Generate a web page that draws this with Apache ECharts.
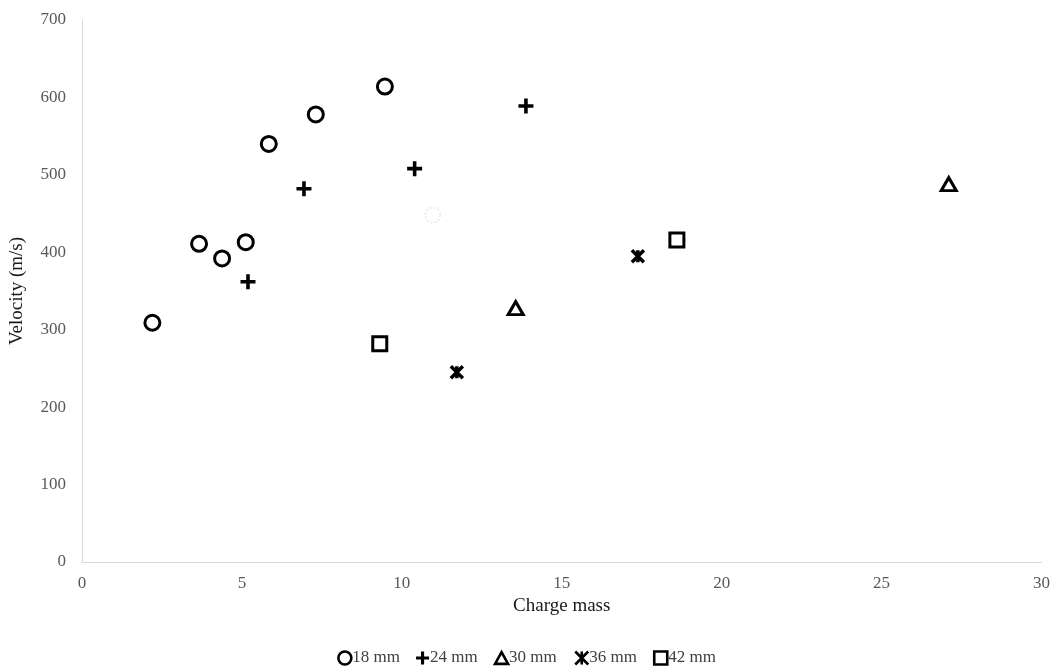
<!DOCTYPE html>
<html>
<head>
<meta charset="utf-8">
<script src="https://cdn.jsdelivr.net/npm/echarts@6/dist/echarts.min.js"></script>
<style>html,body{margin:0;padding:0;background:#fff}#chart{width:1053px;height:666px}</style>
</head>
<body>
<div id="chart"></div>
<script>
var seriesNames = ['18 mm', '24 mm', '30 mm', '36 mm', '42 mm'];
var data18 = [[2.2, 309], [3.66, 411], [4.38, 392], [5.12, 413], [5.84, 540], [7.31, 578], [9.47, 614]];
var data18faint = [[10.97, 448]];
var data24 = [[5.19, 362], [6.94, 482], [10.4, 508], [13.88, 589]];
var data30 = [[13.56, 328], [27.1, 488]];
var data36 = [[11.72, 245], [17.38, 395]];
var data42 = [[9.31, 282], [18.6, 416]];
var xTicks = [0, 5, 10, 15, 20, 25, 30];
var yTicks = [0, 100, 200, 300, 400, 500, 600, 700];

var FONT = '"Liberation Serif", "Times New Roman", serif';
var plusPath = 'path://M3.8,0H6.2V3.8H10V6.2H6.2V10H3.8V6.2H0V3.8H3.8Z';
var starPath = 'path://M0,0L10,10M10,0L0,10M5,0L5,10';
var triPath = 'path://M5,0L10,9H0Z';

var hollow = {color: '#fff', borderColor: '#000', borderWidth: 3, opacity: 1};

var chart = echarts.init(document.getElementById('chart'));
var option = {
  backgroundColor: '#fff',
  animation: false,
  grid: {left: 82, right: 11, top: 20, bottom: 104},
  legend: {
    top: 644,
    left: 'center',
    itemWidth: 13, itemHeight: 13, itemGap: 16,
    itemStyle: {borderWidth: 2.6},
    textStyle: {fontFamily: FONT, fontSize: 17, color: '#404040', padding: [0, 0, 0, -4]},
    data: seriesNames
  },
  xAxis: {
    type: 'value', min: xTicks[0], max: xTicks[xTicks.length - 1], interval: 5,
    name: 'Charge mass', nameLocation: 'middle', nameGap: 35,
    nameTextStyle: {fontFamily: FONT, fontSize: 19, color: '#1a1a1a'},
    axisLine: {show: true, lineStyle: {color: '#d9d9d9', width: 1}},
    axisTick: {show: false},
    splitLine: {show: false},
    axisLabel: {fontFamily: FONT, fontSize: 17, color: '#595959', margin: 13}
  },
  yAxis: {
    type: 'value', min: yTicks[0], max: yTicks[yTicks.length - 1], interval: 100,
    name: 'Velocity (m/s)', nameLocation: 'middle', nameGap: 55,
    nameTextStyle: {fontFamily: FONT, fontSize: 19, color: '#1a1a1a'},
    axisLine: {show: true, lineStyle: {color: '#d9d9d9', width: 1}},
    axisTick: {show: false},
    splitLine: {show: false},
    axisLabel: {fontFamily: FONT, fontSize: 17, color: '#595959', margin: 16}
  },
  series: [
    {name: seriesNames[0], type: 'scatter', symbol: 'circle', symbolSize: 15,
     itemStyle: hollow,
     data: data18.concat(data18faint.map(function (p) {
       return {value: p, itemStyle: {color: '#fff', borderColor: '#ececec', borderWidth: 2, borderType: 'dotted'}};
     }))},
    {name: seriesNames[1], type: 'scatter', symbol: plusPath, symbolSize: 15,
     itemStyle: {color: '#000', opacity: 1}, data: data24},
    {name: seriesNames[2], type: 'scatter', symbol: triPath, symbolSize: [15, 13],
     itemStyle: hollow, data: data30},
    {name: seriesNames[3], type: 'scatter', symbol: starPath, symbolSize: 12,
     itemStyle: {color: 'none', borderColor: '#000', borderWidth: 3.5, opacity: 1}, data: data36},
    {name: seriesNames[4], type: 'scatter', symbol: 'rect', symbolSize: 14,
     itemStyle: hollow, data: data42}
  ]
};
chart.setOption(option);
</script>
</body>
</html>
